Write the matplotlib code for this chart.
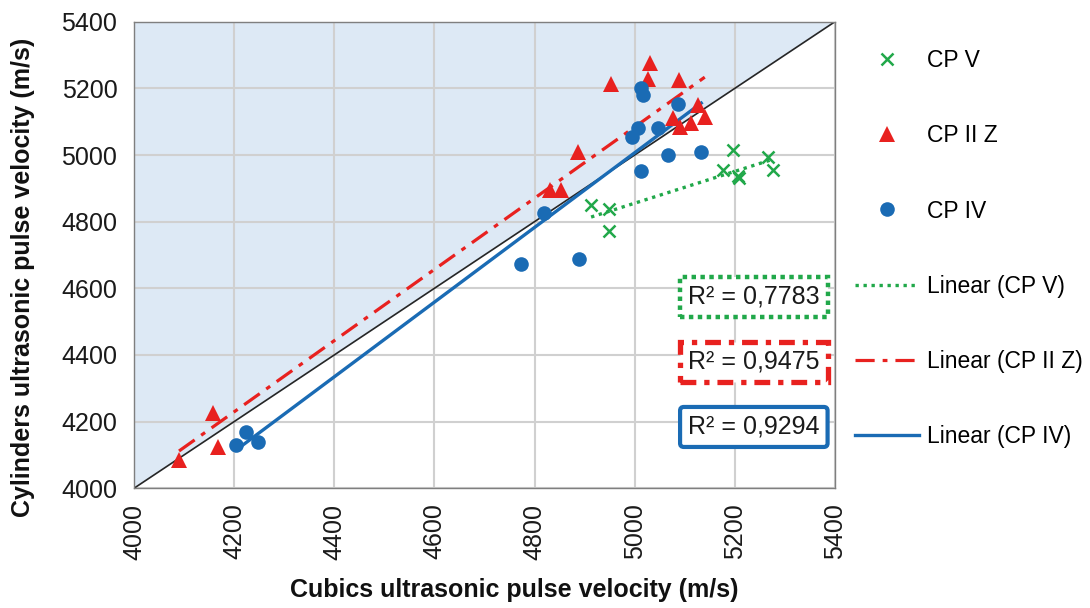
"""
Cylinders vs cubics ultrasonic pulse velocity, with linear trendlines
"""

import matplotlib
matplotlib.use('Agg')
import matplotlib.pyplot as plt
import numpy as np

plt.rcParams['font.family'] = ['Liberation Sans', 'DejaVu Sans']

# CP V (green crosses)
cpv_x = [4913, 4949, 4949, 5177, 5197, 5207, 5209, 5267, 5277]
cpv_y = [4850, 4837, 4773, 4955, 5015, 4937, 4930, 4993, 4955]

# CP II Z (red triangles)
cp2z_x = [4090, 4157, 4167, 4830, 4853, 4887, 4953, 5027, 5030, 5077, 5089, 5090, 5113, 5127, 5140]
cp2z_y = [4085, 4225, 4125, 4895, 4895, 5010, 5213, 5227, 5275, 5110, 5225, 5085, 5095, 5150, 5113]

# CP IV (blue circles)
cp4_x = [4204, 4224, 4247, 4773, 4819, 4889, 4994, 5006, 5013, 5013, 5017, 5046, 5067, 5087, 5133]
cp4_y = [4130, 4170, 4140, 4673, 4825, 4687, 5055, 5080, 4953, 5200, 5180, 5080, 5000, 5153, 5010]

r2_labels = ['R² = 0,7783', 'R² = 0,9475', 'R² = 0,9294']
r2_y = [4574, 4379, 4184]

ticks = [4000, 4200, 4400, 4600, 4800, 5000, 5200, 5400]

green = '#21a84a'
red = '#e8211f'
blue = '#1a6bb4'


def trend(xs, ys):
	# same as excel linear trendline, drawn over the data x range
	xs = np.array(xs, dtype=float)
	ys = np.array(ys, dtype=float)
	k, b = np.polyfit(xs, ys, 1)
	xx = np.array([xs.min(), xs.max()])
	return xx, k * xx + b


fig = plt.figure(figsize=(10.9, 6.08), dpi=100)
ax = fig.add_axes([0.1229, 0.1969, 0.6431, 0.7674])

lo, hi = ticks[0], ticks[-1]
ax.fill_between([lo, hi], [lo, hi], [hi, hi], color='#dde9f5', zorder=0.2, linewidth=0)
ax.plot([lo, hi], [lo, hi], color='#262626', lw=1.2, zorder=2)

p1, = ax.plot(cpv_x, cpv_y, linestyle='none', marker='x', color=green, ms=8.5, mew=1.8, label='CP V', zorder=4)
p2, = ax.plot(cp2z_x, cp2z_y, linestyle='none', marker='^', color=red, ms=11.5, mew=0, label='CP II Z', zorder=4)
p3, = ax.plot(cp4_x, cp4_y, linestyle='none', marker='o', color=blue, ms=10.5, mew=0, label='CP IV', zorder=4)

tx, ty = trend(cpv_x, cpv_y)
l1, = ax.plot(tx, ty, color=green, lw=2.4, linestyle=(0, (1, 1.4)), label='Linear (CP V)', zorder=3)
tx, ty = trend(cp2z_x, cp2z_y)
l2, = ax.plot(tx, ty, color=red, lw=2.3, linestyle=(0, (6, 2.5, 1.5, 2.5)), label='Linear (CP II Z)', zorder=3)
tx, ty = trend(cp4_x, cp4_y)
l3, = ax.plot(tx, ty, color=blue, lw=2.4, linestyle='-', label='Linear (CP IV)', zorder=3)

# R² boxes
box_styles = [
	dict(boxstyle='square,pad=0.32', fc='white', ec=green, lw=3.2, ls=(0, (1, 1))),
	dict(boxstyle='square,pad=0.32', fc='white', ec=red, lw=3.8, ls=(0, (3, 1.5, 1, 1.5))),
	dict(boxstyle='round,pad=0.32,rounding_size=0.15', fc='white', ec=blue, lw=3.0),
]
for lab, yy, bs in zip(r2_labels, r2_y, box_styles):
	ax.text(5238, yy, lab, fontsize=18, ha='center', va='center', color='#1a1a1a', bbox=bs, zorder=6)

ax.set_xlim(lo, hi)
ax.set_ylim(lo, hi)
ax.set_xticks(ticks)
ax.set_yticks(ticks)
ax.set_axisbelow(True)
ax.grid(True, color='#d0d0d0', lw=1.5)
for s in ax.spines.values():
	s.set_color('#7f7f7f')
	s.set_linewidth(1.0)
ax.tick_params(axis='both', length=0, labelsize=18, colors='#1a1a1a')
ax.tick_params(axis='y', pad=12)
ax.tick_params(axis='x', pad=11, labelrotation=90)

ax.set_xlabel('Cubics ultrasonic pulse velocity (m/s)', fontsize=18, fontweight='bold', color='#111111')
ax.set_ylabel('Cylinders ultrasonic pulse velocity (m/s)', fontsize=18, fontweight='bold', color='#111111')
ax.xaxis.set_label_coords(0.542, -0.192)
ax.yaxis.set_label_coords(-0.141, 0.453)

fig.legend(handles=[p1, p2, p3, l1, l2, l3], loc='upper left', bbox_to_anchor=(855 / 1090, 1 - 49 / 608),
	frameon=False, fontsize=16.5, labelspacing=2.28, handlelength=2.8, handletextpad=0.35,
	borderpad=0, borderaxespad=0, numpoints=1)

plt.savefig('out.png', dpi=100)
plt.close()
